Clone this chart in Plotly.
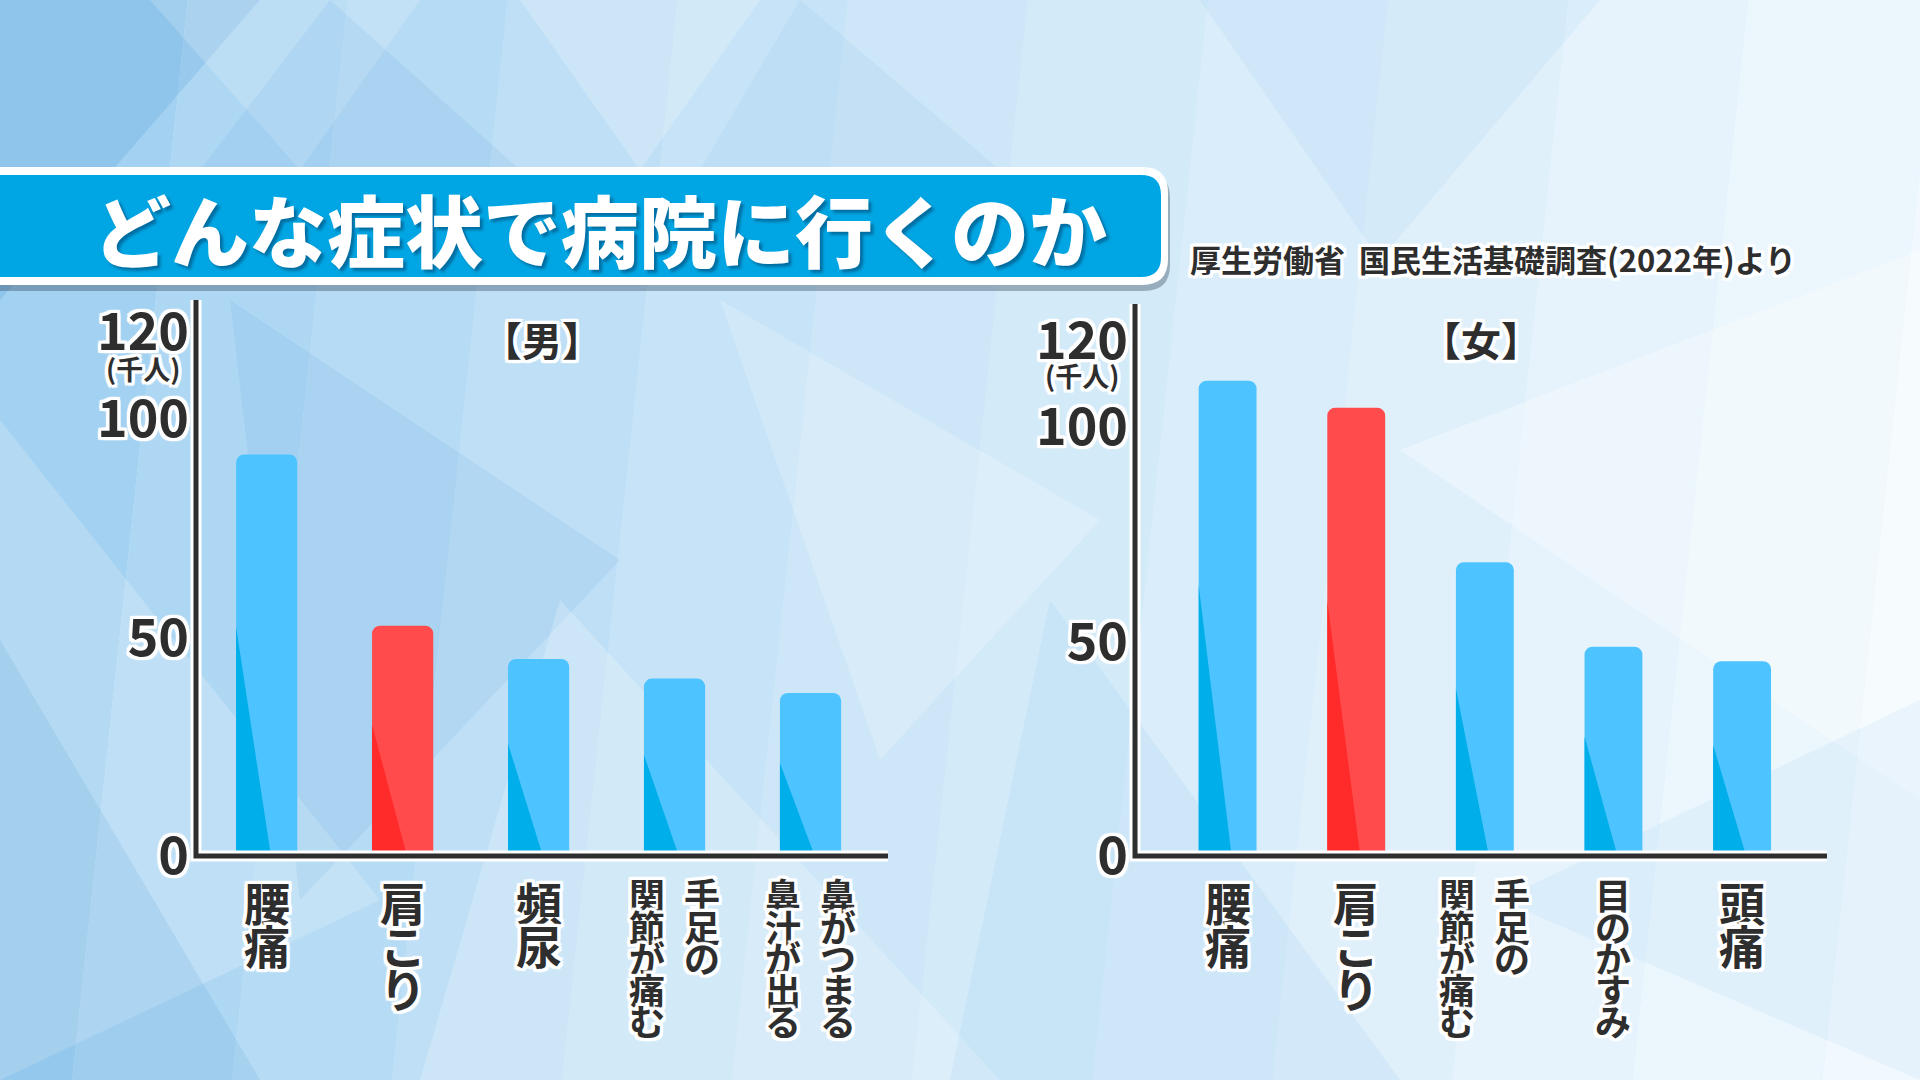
import plotly.graph_objects as go

W, H = 1920, 1080

title_text = "どんな症状で病院に行くのか"
source_text = "厚生労働省  国民生活基礎調査(2022年)より"
unit_text = "(千人)"

male_title = "【男】"
male_categories = ["腰痛", "肩こり", "頻尿", "手足の関節が痛む", "鼻がつまる・鼻汁が出る"]
male_label_cols = [["腰痛"], ["肩こり"], ["頻尿"], ["手足の", "関節が痛む"], ["鼻がつまる", "鼻汁が出る"]]
male_values = [91.9, 52.7, 45.1, 40.6, 37.3]
male_highlight = [False, True, False, False, False]

female_title = "【女】"
female_categories = ["腰痛", "肩こり", "手足の関節が痛む", "目のかすみ", "頭痛"]
female_label_cols = [["腰痛"], ["肩こり"], ["手足の", "関節が痛む"], ["目のかすみ"], ["頭痛"]]
female_values = [110.8, 104.5, 68.5, 48.8, 45.4]
female_highlight = [False, True, False, False, False]

y_tickvals = [0, 50, 100, 120]
y_ticktext = ["0", "50", "100", "120"]

FONT = "Noto Sans CJK JP"
INK = "#2e2e2e"
BLUE, BLUE_DARK = "#4dc4ff", "#00aeea"
RED, RED_DARK = "#ff4b4b", "#ff2a2a"
BAR_W = 0.45
SHADE = 0.57  # dark wedge at the foot of each bar
LABEL_TOP = 866


def halo(r=3, color="#ffffff"):
    dirs = [(r, 0), (-r, 0), (0, r), (0, -r), (r, r), (-r, -r), (r, -r), (-r, r),
            (r, r // 2), (-r, r // 2), (r // 2, r), (r // 2, -r)]
    return ", ".join(f"{dx}px {dy}px 1px {color}" for dx, dy in dirs)


def pt(x, y):
    return f"{x / W:.5f},{1 - y / H:.5f}"


def poly(points):
    return "M " + " L ".join(pt(x, y) for x, y in points) + " Z"


def rrect(x0, y0, x1, y1, r):
    return (f"M {pt(x0, y0 + r)} Q {pt(x0, y0)} {pt(x0 + r, y0)} L {pt(x1 - r, y0)} "
            f"Q {pt(x1, y0)} {pt(x1, y0 + r)} L {pt(x1, y1 - r)} Q {pt(x1, y1)} {pt(x1 - r, y1)} "
            f"L {pt(x0 + r, y1)} Q {pt(x0, y1)} {pt(x0, y1 - r)} Z")


def mix(c1, c2, t):
    a = [int(c1[i:i + 2], 16) for i in (1, 3, 5)]
    b = [int(c2[i:i + 2], 16) for i in (1, 3, 5)]
    return "#" + "".join(f"{round(a[k] + (b[k] - a[k]) * t):02x}" for k in range(3))


fig = go.Figure()
shapes = []

# --- faceted pale-blue background ---
edges = [-100, 150, 310, 470, 640, 810, 990, 1170, 1350, 1530, 1710, 1900, 2100]
for k in range(len(edges) - 1):
    t = k / (len(edges) - 2)
    col = mix("#a2d1f1", "#f2f9fe", t ** 0.8)
    x0, x1 = edges[k], edges[k + 1]
    shapes.append(dict(type="path", xref="paper", yref="paper", layer="below",
                       path=poly([(x0 + 40, -20), (x1 + 40, -20), (x1 - 80, H + 20), (x0 - 80, H + 20)]),
                       fillcolor=col, line_width=0))
facets = [
    ([(0, 0), (260, 0), (0, 300)], "rgba(70,150,215,0.20)"),
    ([(150, 0), (420, 0), (300, 170)], "rgba(255,255,255,0.18)"),
    ([(330, 0), (520, 170), (200, 170)], "rgba(70,150,215,0.10)"),
    ([(520, 0), (760, 0), (640, 170)], "rgba(255,255,255,0.22)"),
    ([(800, 0), (1000, 170), (700, 170)], "rgba(70,150,215,0.07)"),
    ([(0, 420), (380, 900), (0, 1080)], "rgba(255,255,255,0.20)"),
    ([(0, 640), (260, 1080), (0, 1080)], "rgba(70,150,215,0.14)"),
    ([(230, 300), (620, 560), (300, 900)], "rgba(70,150,215,0.10)"),
    ([(560, 600), (1000, 1080), (420, 1080)], "rgba(255,255,255,0.22)"),
    ([(720, 300), (1100, 520), (880, 760)], "rgba(255,255,255,0.20)"),
    ([(1050, 600), (1400, 1080), (950, 1080)], "rgba(120,190,240,0.12)"),
    ([(1200, 0), (1600, 0), (1380, 260)], "rgba(120,190,240,0.10)"),
    ([(1400, 450), (1920, 250), (1920, 800)], "rgba(255,255,255,0.30)"),
    ([(1500, 900), (1920, 700), (1920, 1080)], "rgba(120,190,240,0.10)"),
]
for pts, col in facets:
    shapes.append(dict(type="path", xref="paper", yref="paper", layer="below",
                       path=poly(pts), fillcolor=col, line_width=0))

# --- title banner ---
shapes.append(dict(type="path", xref="paper", yref="paper", layer="below",
                   path=rrect(-40, 172, 1170, 291, 26), fillcolor="rgba(40,60,80,0.35)", line_width=0))
shapes.append(dict(type="path", xref="paper", yref="paper", layer="below",
                   path=rrect(-40, 167, 1168, 285, 26), fillcolor="#ffffff", line_width=0))
shapes.append(dict(type="path", xref="paper", yref="paper", layer="below",
                   path=rrect(-40, 175, 1161, 277, 20), fillcolor="#00a6e3", line_width=0))

annotations = [
    dict(text=title_text, x=600 / W, y=1 - 228 / H, xref="paper", yref="paper",
         showarrow=False, xanchor="center", yanchor="middle",
         font=dict(family=FONT, size=78, color="#ffffff", weight=900,
                   shadow="3px 3px 3px rgba(0,40,80,0.45)")),
    dict(text=source_text, x=1188 / W, y=1 - 258 / H, xref="paper", yref="paper",
         showarrow=False, xanchor="left", yanchor="middle",
         font=dict(family=FONT, size=31, color=INK, weight="bold", shadow=halo(3))),
]

panels = [
    dict(cats=male_categories, cols=male_label_cols, vals=male_values, hi=male_highlight,
         title=male_title, xa="x", ya="y", left=196, right=888, top=300, bottom=856,
         scale=4.37, xrange=[-0.52, 4.57], unit_y=368),
    dict(cats=female_categories, cols=female_label_cols, vals=female_values, hi=female_highlight,
         title=female_title, xa="x2", ya="y2", left=1135, right=1827, top=304, bottom=856,
         scale=4.29, xrange=[-0.72, 4.66], unit_y=376),
]

layout_axes = {}
for n, p in enumerate(panels):
    pos = list(range(len(p["cats"])))
    colors = [RED if h else BLUE for h in p["hi"]]
    fig.add_trace(go.Bar(x=pos, y=p["vals"], width=BAR_W, marker_color=colors,
                         marker_line_width=0, marker_cornerradius=8,
                         hovertext=p["cats"], xaxis=p["xa"], yaxis=p["ya"], showlegend=False))
    for dark, flag in ((BLUE_DARK, False), (RED_DARK, True)):
        xs, ys = [], []
        for i, v in enumerate(p["vals"]):
            if p["hi"][i] != flag:
                continue
            x0 = i - BAR_W / 2
            xs += [x0, x0 + SHADE * BAR_W, x0, x0, None]
            ys += [0, 0, SHADE * v, 0, None]
        if xs:
            fig.add_trace(go.Scatter(x=xs, y=ys, mode="lines", fill="toself", fillcolor=dark,
                                     line_width=0, hoverinfo="skip", showlegend=False,
                                     xaxis=p["xa"], yaxis=p["ya"]))

    xd = [p["left"] / W, p["right"] / W]
    yd = [1 - p["bottom"] / H, 1 - p["top"] / H]
    suffix = "" if n == 0 else "2"
    layout_axes["xaxis" + suffix] = dict(domain=xd, range=p["xrange"], showticklabels=False,
                                         showgrid=False, zeroline=False, showline=False,
                                         ticks="", fixedrange=True, automargin=False,
                                         anchor="y" + suffix)
    layout_axes["yaxis" + suffix] = dict(domain=yd, range=[0, (p["bottom"] - p["top"]) / p["scale"]],
                                         tickvals=y_tickvals, ticktext=y_ticktext,
                                         tickfont=dict(family=FONT, size=52, color=INK, weight="bold",
                                                       shadow=halo(3)),
                                         showgrid=False, zeroline=False, showline=False,
                                         ticks="", ticklabelstandoff=6, fixedrange=True,
                                         automargin=False, anchor="x" + suffix)

    # axis frame: white outline under a dark line
    frame = f"M {pt(p['left'], p['top'])} L {pt(p['left'], p['bottom'])} L {pt(p['right'], p['bottom'])}"
    for col, wd in (("#ffffff", 11), (INK, 5)):
        shapes.append(dict(type="path", xref="paper", yref="paper", layer="above",
                           path=frame, line=dict(color=col, width=wd)))

    # panel title and unit
    annotations.append(dict(text=p["title"], x=(p["left"] + p["right"]) / 2 / W,
                            y=1 - 339 / H, xref="paper", yref="paper", showarrow=False,
                            xanchor="center", yanchor="middle",
                            font=dict(family=FONT, size=40, color=INK, weight="bold", shadow=halo(3))))
    annotations.append(dict(text=unit_text, x=(p["left"] - 14) / W, y=1 - p["unit_y"] / H,
                            xref="paper", yref="paper", showarrow=False,
                            xanchor="right", yanchor="middle",
                            font=dict(family=FONT, size=27, color=INK, weight="bold", shadow=halo(3))))

    # vertical (tategaki) category labels, one glyph per annotation
    for i, cols in enumerate(p["cols"]):
        compact = max(len(c) for c in cols) >= 5
        size, pitch = (36, 31.5) if compact else (46, 43)
        for j, col in enumerate(cols):
            dx = ((len(cols) - 1) / 2 - j) * 55
            for k, ch in enumerate(col):
                annotations.append(dict(text=ch, x=i, xref=p["xa"], y=1 - LABEL_TOP / H, yref="paper",
                                        xshift=dx, yshift=-k * pitch, showarrow=False,
                                        xanchor="center", yanchor="top",
                                        font=dict(family=FONT, size=size, color=INK, weight="bold",
                                                  shadow=halo(3))))

fig.update_layout(
    width=W, height=H,
    margin=dict(l=0, r=0, t=0, b=0, autoexpand=False),
    paper_bgcolor="#cfe8f8",
    plot_bgcolor="rgba(0,0,0,0)",
    shapes=shapes,
    annotations=annotations,
    showlegend=False,
    **layout_axes,
)

fig.write_html("out.html", config={"displayModeBar": False},
               post_script="document.body.style.margin='0';document.body.style.overflow='hidden';")
